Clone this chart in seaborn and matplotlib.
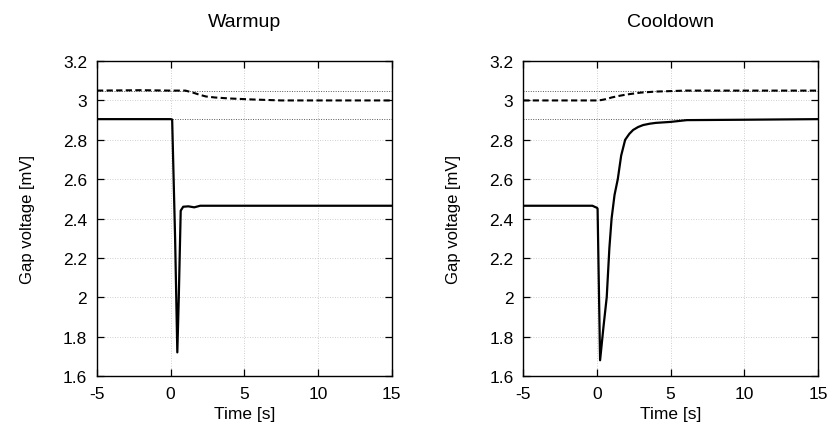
# Gap voltage during warmup / cooldown
import matplotlib.pyplot as plt
import matplotlib.ticker as mticker
import seaborn as sns
import pandas as pd

# --- data ---
warm_t = [-5, -2, 0, 0.1, 0.3, 0.45, 0.55, 0.68, 0.85, 1.2, 1.6, 2.0, 3.0, 15]
warm_v = [2.905, 2.905, 2.905, 2.903, 2.30, 1.72, 2.00, 2.44, 2.46, 2.462, 2.457, 2.465, 2.465, 2.465]
warm_ref_t = [-5, -2, 0, 1.0, 1.5, 2.0, 2.4, 3.0, 4.0, 5.5, 7.5, 15]
warm_ref_v = [3.05, 3.052, 3.05, 3.05, 3.04, 3.028, 3.02, 3.015, 3.01, 3.005, 3.0, 3.0]

cool_t = [-5, -0.3, -0.1, 0.0, 0.05, 0.22, 0.45, 0.67, 0.85, 1.0, 1.2, 1.42, 1.65, 1.92, 2.2,
          2.46, 2.8, 3.14, 3.6, 4.0, 5.0, 6.1, 10, 15]
cool_v = [2.465, 2.465, 2.458, 2.455, 2.45, 1.68, 1.85, 2.0, 2.25, 2.4, 2.52, 2.6, 2.72, 2.8, 2.83,
          2.85, 2.865, 2.875, 2.882, 2.886, 2.891, 2.9, 2.902, 2.905]
cool_ref_t = [-5, 0, 0.3, 0.7, 1.0, 1.5, 2.0, 3.0, 4.0, 6.0, 15]
cool_ref_v = [3.0, 3.0, 3.002, 3.008, 3.015, 3.023, 3.03, 3.04, 3.045, 3.05, 3.05]

levels = [3.05, 2.905]
x_ticks = [-5, 0, 5, 10, 15]
y_ticks = [1.6, 1.8, 2.0, 2.2, 2.4, 2.6, 2.8, 3.0, 3.2]

panels = [
    ("Warmup", warm_t, warm_v, warm_ref_t, warm_ref_v),
    ("Cooldown", cool_t, cool_v, cool_ref_t, cool_ref_v),
]

sns.set_theme(style="ticks")
plt.rcParams['font.family'] = ['Liberation Sans', 'DejaVu Sans']
plt.rcParams['axes.unicode_minus'] = False
plt.rcParams['text.color'] = 'black'
plt.rcParams['axes.labelcolor'] = 'black'
plt.rcParams['xtick.color'] = 'black'
plt.rcParams['ytick.color'] = 'black'

fig = plt.figure(figsize=(8.33, 4.35), dpi=100)
lefts = [0.1164, 0.628]

for left, (title, t, v, rt, rv) in zip(lefts, panels):
    ax = fig.add_axes([left, 0.1333, 0.354, 0.724])

    # light dotted grid
    for xt in x_ticks[1:-1]:
        ax.axvline(xt, color="0.75", lw=0.6, ls=(0, (1, 2)), zorder=0)
    for yt in y_ticks[1:-1]:
        ax.axhline(yt, color="0.75", lw=0.6, ls=(0, (1, 2)), zorder=0)
    # reference levels
    for lv in levels:
        ax.axhline(lv, color="0.35", lw=0.7, ls=(0, (1, 1.5)), zorder=1)

    df = pd.DataFrame({"t": t, "v": v})
    dref = pd.DataFrame({"t": rt, "v": rv})
    sns.lineplot(data=df, x="t", y="v", ax=ax, color="black", lw=1.6,
                 estimator=None, sort=False)
    sns.lineplot(data=dref, x="t", y="v", ax=ax, color="black", lw=1.5,
                 ls=(0, (3, 1.6)), estimator=None, sort=False)

    ax.set_xlim(-5, 15)
    ax.set_ylim(1.6, 3.2)
    ax.set_xticks(x_ticks)
    ax.set_yticks(y_ticks)
    ax.yaxis.set_major_formatter(mticker.FuncFormatter(lambda val, p: f"{val:g}"))
    ax.tick_params(direction="in", length=5, width=0.9, top=True, right=True,
                   labelsize=12.5, pad=7, color="black", labelcolor="black")
    for s in ax.spines.values():
        s.set_color("black")
        s.set_linewidth(1.0)

    ax.set_title(title, fontsize=14, pad=25, color="black")
    ax.set_xlabel("Time [s]", fontsize=12.5, labelpad=4, color="black")
    ax.set_ylabel("Gap voltage [mV]", fontsize=12, labelpad=20, color="black")

fig.savefig("out.png", dpi=100)
